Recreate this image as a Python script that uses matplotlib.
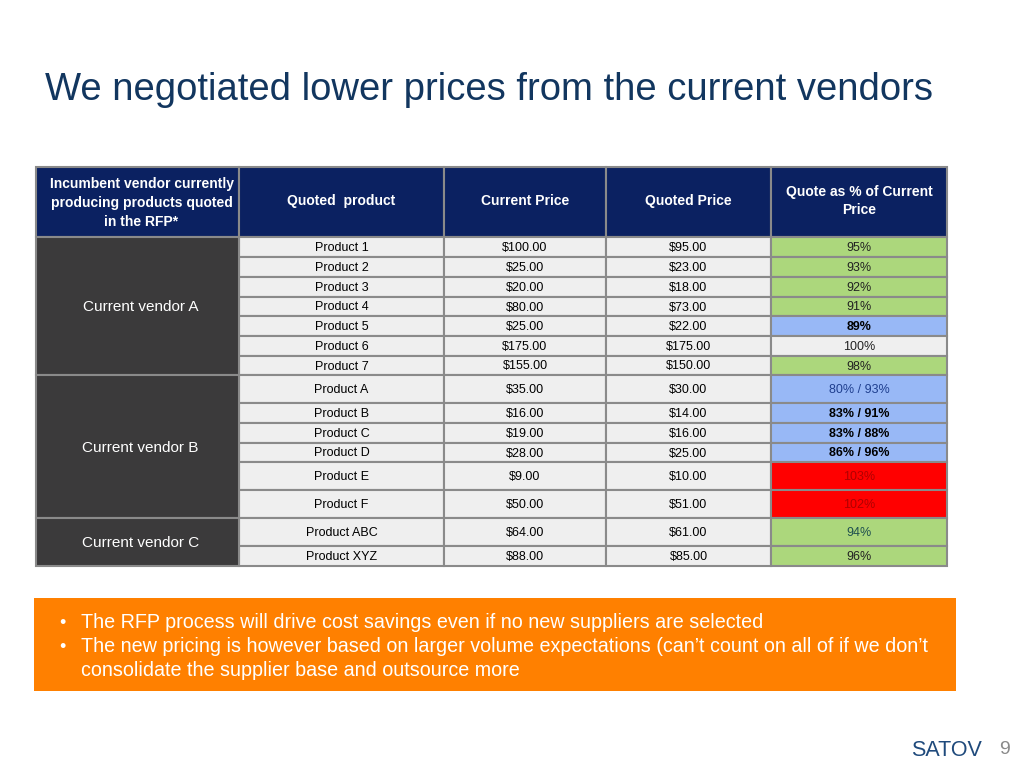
import matplotlib.pyplot as plt
from matplotlib.patches import Rectangle

plt.rcParams['font.family'] = ['Liberation Sans', 'DejaVu Sans']

# данные таблицы
title = "We negotiated lower prices from the current vendors"
headers = ["Incumbent vendor currently\nproducing products quoted\nin the RFP*",
           "Quoted  product", "Current Price", "Quoted Price",
           "Quote as % of Current\nPrice"]
vendors = ["Current vendor A"] * 7 + ["Current vendor B"] * 6 + ["Current vendor C"] * 2
products = ["Product 1", "Product 2", "Product 3", "Product 4", "Product 5",
            "Product 6", "Product 7", "Product A", "Product B", "Product C",
            "Product D", "Product E", "Product F", "Product ABC", "Product XYZ"]
current_price = [100.00, 25.00, 20.00, 80.00, 25.00, 175.00, 155.00,
                 35.00, 16.00, 19.00, 28.00, 9.00, 50.00, 64.00, 88.00]
quoted_price = [95.00, 23.00, 18.00, 73.00, 22.00, 175.00, 150.00,
                30.00, 14.00, 16.00, 25.00, 10.00, 51.00, 61.00, 85.00]
quote_pct = ["95%", "93%", "92%", "91%", "89%", "100%", "98%",
             "80% / 93%", "83% / 91%", "83% / 88%", "86% / 96%",
             "103%", "102%", "94%", "96%"]
bullets = ["The RFP process will drive cost savings even if no new suppliers are selected",
           "The new pricing is however based on larger volume expectations (can\u2019t count on all of if we don\u2019t\nconsolidate the supplier base and outsource more"]

# раскладка (пиксели)
col_x = [36, 239, 444, 606, 771, 947]
header_top, header_bot = 167, 237
row_h = [20, 20, 20, 19, 20, 20, 19, 28, 20, 20, 19, 28, 28, 28, 20]

navy = "#0b2161"
dark = "#3b3a3b"
light = "#efefef"
border = "#8a8a8a"


def pct_color(s):
    v = int(s.split("%")[0])
    if v > 100:
        return "#ff0000"
    if v == 100:
        return light
    if v < 90:
        return "#98b8f6"
    return "#acd77c"


def pct_style(s):
    v = int(s.split("%")[0])
    if v > 100:
        return dict(color="#b00000")
    if s == "80% / 93%":
        return dict(color="#1f3f8f")
    if s == "94%":
        return dict(color="#1f4f4f")
    if v < 90:
        return dict(color="black", fontweight="bold")
    return dict(color="#222222")


fig = plt.figure(figsize=(10.24, 7.68), dpi=100)
ax = fig.add_axes([0, 0, 1, 1])
ax.set_xlim(0, 1024)
ax.set_ylim(768, 0)
ax.axis("off")

ax.text(45, 90, title, fontsize=27.5, color="#12365f", va="center", ha="left")

# шапка
for i, h in enumerate(headers):
    ax.add_patch(Rectangle((col_x[i], header_top), col_x[i + 1] - col_x[i],
                           header_bot - header_top, facecolor=navy,
                           edgecolor=border, lw=1.5))
    dx = 4 if i == 0 else 0
    ax.text((col_x[i] + col_x[i + 1]) / 2 + dx, (header_top + header_bot) / 2 + (1 if i == 0 else -1),
            h, color="white", fontsize=10, fontweight="bold",
            ha="center", va="center", linespacing=1.45)

# строки
y = header_bot
row_tops = []
for r in range(len(products)):
    row_tops.append(y)
    h = row_h[r]
    cells = [products[r], f"${current_price[r]:,.2f}", f"${quoted_price[r]:,.2f}", quote_pct[r]]
    for c, txt in enumerate(cells):
        x0, x1 = col_x[c + 1], col_x[c + 2]
        fc = pct_color(txt) if c == 3 else light
        ax.add_patch(Rectangle((x0, y), x1 - x0, h, facecolor=fc,
                               edgecolor=border, lw=1.5))
        kw = pct_style(txt) if c == 3 else dict(color="black")
        ax.text((x0 + x1) / 2, y + h / 2 + 1, txt, fontsize=9, ha="center",
                va="center", **kw)
    y += h
row_tops.append(y)

# ячейки поставщиков
start = 0
for r in range(1, len(vendors) + 1):
    if r == len(vendors) or vendors[r] != vendors[start]:
        top, bot = row_tops[start], row_tops[r]
        ax.add_patch(Rectangle((col_x[0], top), col_x[1] - col_x[0], bot - top,
                               facecolor=dark, edgecolor=border, lw=1.5))
        ax.text((col_x[0] + col_x[1]) / 2 + 3, (top + bot) / 2 + 1, vendors[start],
                color="white", fontsize=11, ha="center", va="center")
        start = r

# оранжевый блок
ax.add_patch(Rectangle((34, 598), 922, 93, facecolor="#ff8000", edgecolor="none"))
by = 622
for b in bullets:
    lines = b.split("\n")
    ax.text(62, by + 1, "\u2022", color="white", fontsize=13, va="center", ha="center")
    for ln in lines:
        ax.text(81, by, ln, color="white", fontsize=14.2, va="center")
        by += 24

ax.text(946, 750, "SATOV", color="#1f4a7c", fontsize=15.5, ha="center", va="center")
ax.text(1005, 750, "9", color="#8a8a8a", fontsize=14, ha="center", va="center")

fig.savefig("out.png", dpi=100)
